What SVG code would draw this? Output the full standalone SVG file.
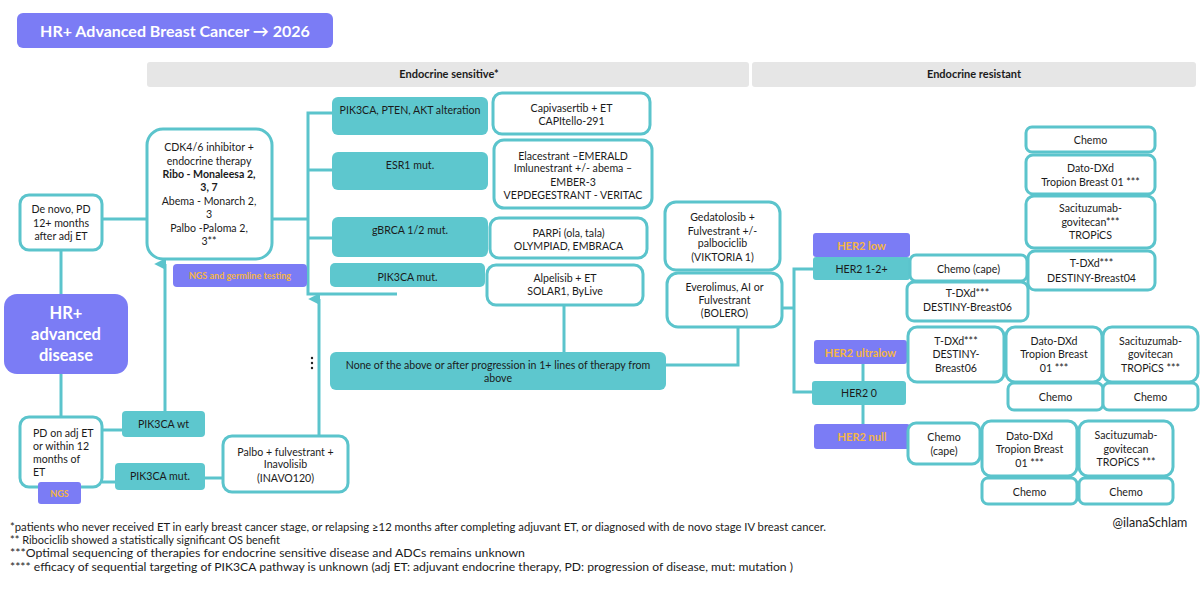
<svg xmlns="http://www.w3.org/2000/svg" width="1200" height="599" viewBox="0 0 1200 599">
<style>
text{font-family:Lato,"Liberation Sans",sans-serif;fill:#1b1b1b;font-size:10.6px;text-anchor:middle}
.wb{fill:#fff;stroke:#5BC4CC;stroke-width:3}
.tb{fill:#5DC7CE}
.pb{fill:#7B7CF5}
.gh{fill:#E6E6E6}
.b{font-weight:bold}
.w{fill:#fff;font-weight:bold}
.o{fill:#F4B545;font-weight:bold;font-size:11px}
.o9{fill:#F4B545;font-weight:bold;font-size:9px}
.l{text-anchor:start}
.hd{font-weight:bold;font-size:11px}
.fn{text-anchor:start;font-size:11.5px}
.big{font-size:16.5px}
.ttl{font-size:16px}
.cr{font-size:12.5px}
#connectors path,#connectors line{stroke:#5BC4CC;stroke-width:3;fill:none}
</style>
<defs>
<marker id="ah" viewBox="0 0 10 10" refX="5" refY="9" markerWidth="4" markerHeight="4" orient="auto-start-reverse" markerUnits="strokeWidth">
<path d="M0,10 L5,0 L10,10 Z" fill="#5BC4CC"/>
</marker>
</defs>
<rect width="1200" height="599" fill="#fff"/>

<g id="title"><rect class="pb" x="17" y="13" width="316" height="35" rx="6"/><text class="w ttl" x="175" y="37">HR+ Advanced Breast Cancer → 2026</text></g>
<g id="hdr-sensitive"><rect class="gh" x="147" y="62" width="602" height="25" rx="3"/><text class="hd" x="449" y="78">Endocrine sensitive*</text></g>
<g id="hdr-resistant"><rect class="gh" x="752" y="62" width="444" height="25" rx="3"/><text class="hd" x="974" y="78">Endocrine resistant</text></g>

<g id="connectors">
<line x1="61" y1="250" x2="61" y2="294"/>
<line x1="61" y1="374" x2="61" y2="417"/>
<line x1="102" y1="219" x2="147" y2="219"/>
<line x1="272" y1="219" x2="308" y2="219"/>
<path d="M332,113 H308 V294 H397"/>
<line x1="308" y1="170" x2="332" y2="170"/>
<line x1="308" y1="238" x2="332" y2="238"/>
<line x1="165" y1="411" x2="165" y2="264" marker-end="url(#ah)"/>
<line x1="319" y1="436" x2="319" y2="299" marker-end="url(#ah)"/>
<line x1="102" y1="430" x2="122" y2="430"/>
<line x1="102" y1="482" x2="115" y2="482"/>
<line x1="205" y1="478" x2="223" y2="478"/>
<line x1="564" y1="305" x2="564" y2="352"/>
<path d="M666,365 H738 V327"/>
<line x1="782" y1="308" x2="794" y2="308"/>
<path d="M813,269 H794 V392 H812"/>
<line x1="863" y1="364" x2="863" y2="381"/>
<line x1="863" y1="405" x2="863" y2="424"/>
</g>

<g id="denovo"><rect class="wb" x="20" y="195" width="82" height="55" rx="9"/><text x="61" y="213">De novo, PD</text><text x="61" y="227">12+ months</text><text x="61" y="240">after adj ET</text></g>
<g id="cdk"><rect class="wb" x="147" y="129" width="125" height="130" rx="16"/>
<text x="209" y="151">CDK4/6 inhibitor +</text><text x="209" y="165">endocrine therapy</text>
<text class="b" x="209" y="178">Ribo - Monaleesa 2,</text><text class="b" x="209" y="191">3, 7</text>
<text x="209" y="205">Abema - Monarch 2,</text><text x="209" y="218">3</text>
<text x="209" y="232">Palbo -Paloma 2,</text><text x="209" y="245">3**</text></g>
<g id="ngs-germline"><rect class="pb" x="173" y="264" width="134" height="23" rx="4"/><text class="o9" x="240" y="279">NGS and germline testing</text></g>

<g id="hr-adv"><rect class="pb" x="4" y="294" width="124" height="80" rx="13"/><text class="w big" x="66" y="319">HR+</text><text class="w big" x="66" y="340">advanced</text><text class="w big" x="66" y="361">disease</text></g>
<g id="pd-adj"><rect class="wb" x="20" y="417" width="82" height="70" rx="9"/><text class="l" x="33" y="437">PD on adj ET</text><text class="l" x="33" y="450">or within 12</text><text class="l" x="33" y="463">months of</text><text class="l" x="33" y="476">ET</text></g>
<g id="ngs"><rect class="pb" x="38" y="482" width="43" height="22" rx="3"/><text class="o9" x="59.5" y="497">NGS</text></g>
<g id="pik-wt"><rect class="tb" x="122" y="411" width="83" height="26" rx="4"/><text x="163.5" y="428">PIK3CA wt</text></g>
<g id="pik-mut-l"><rect class="tb" x="115" y="463" width="90" height="27" rx="4"/><text x="160" y="480">PIK3CA mut.</text></g>
<g id="inavo"><rect class="wb" x="223" y="436" width="125" height="56" rx="9"/><text x="285.5" y="456">Palbo + fulvestrant +</text><text x="285.5" y="468">Inavolisib</text><text x="285.5" y="482">(INAVO120)</text></g>
<g id="dots"><circle cx="312" cy="358" r="1.2" fill="#222"/><circle cx="312" cy="363" r="1.2" fill="#222"/><circle cx="312" cy="368" r="1.2" fill="#222"/></g>

<g id="pten"><rect class="tb" x="332" y="97" width="156" height="38" rx="6"/><text x="410" y="114">PIK3CA, PTEN, AKT  alteration</text></g>
<g id="esr1"><rect class="tb" x="332" y="152" width="156" height="38" rx="6"/><text x="410" y="169">ESR1 mut.</text></g>
<g id="gbrca"><rect class="tb" x="332" y="217" width="156" height="40" rx="6"/><text x="410" y="234">gBRCA 1/2 mut.</text></g>
<g id="pik-mut"><rect class="tb" x="330" y="263" width="155" height="24" rx="5"/><text x="407.5" y="281">PIK3CA mut.</text></g>

<g id="capi"><rect class="wb" x="493" y="93" width="157" height="41" rx="9"/><text x="571.5" y="112">Capivasertib + ET</text><text x="571.5" y="125">CAPItello-291</text></g>
<g id="elac"><rect class="wb" x="494" y="140" width="158" height="68" rx="10"/><text x="573" y="160">Elacestrant –EMERALD</text><text x="573" y="172">Imlunestrant +/- abema –</text><text x="573" y="186">EMBER-3</text><text x="573" y="199">VEPDEGESTRANT - VERITAC</text></g>
<g id="parp"><rect class="wb" x="490" y="218" width="157" height="40" rx="9"/><text x="568.5" y="237">PARPi (ola, tala)</text><text x="568.5" y="250">OLYMPIAD, EMBRACA</text></g>
<g id="alpe"><rect class="wb" x="487" y="265" width="156" height="40" rx="9"/><text x="565" y="282">Alpelisib + ET</text><text x="565" y="295">SOLAR1, ByLive</text></g>
<g id="none"><rect class="tb" x="330" y="352" width="336" height="38" rx="6"/><text x="498" y="369">None of the above or after progression in 1+ lines of therapy from</text><text x="498" y="382">above</text></g>

<g id="gedat"><rect class="wb" x="665" y="202" width="115" height="68" rx="11"/><text x="722.5" y="221">Gedatolosib +</text><text x="722.5" y="235">Fulvestrant +/-</text><text x="722.5" y="247">palbociclib</text><text x="722.5" y="261">(VIKTORIA 1)</text></g>
<g id="bolero"><rect class="wb" x="667" y="273" width="115" height="54" rx="11"/><text x="724.5" y="291">Everolimus, AI or</text><text x="724.5" y="304">Fulvestrant</text><text x="724.5" y="317">(BOLERO)</text></g>

<g id="her2low"><rect class="pb" x="813" y="233" width="97" height="24" rx="3"/><text class="o" x="861.5" y="250">HER2 low</text></g>
<g id="her2-12"><rect class="tb" x="813" y="257" width="97" height="23" rx="3"/><text x="861.5" y="273">HER2 1-2+</text></g>
<g id="her2ultra"><rect class="pb" x="814" y="340" width="93" height="24" rx="3"/><text class="o" x="860.5" y="357">HER2 ultralow</text></g>
<g id="her2-0"><rect class="tb" x="812" y="381" width="94" height="24" rx="3"/><text x="859" y="397">HER2 0</text></g>
<g id="her2null"><rect class="pb" x="814" y="424" width="96" height="25" rx="3"/><text class="o" x="862" y="441">HER2 null</text></g>

<g id="chemo-cape1"><rect class="wb" x="910" y="255" width="117" height="26" rx="6"/><text x="968.5" y="273">Chemo (cape)</text></g>
<g id="tdxd06a"><rect class="wb" x="907" y="282" width="121" height="39" rx="7"/><text x="967.5" y="297">T-DXd***</text><text x="967.5" y="311">DESTINY-Breast06</text></g>
<g id="chemo-r1"><rect class="wb" x="1026" y="127" width="129" height="25" rx="6"/><text x="1090.5" y="144">Chemo</text></g>
<g id="dato-r"><rect class="wb" x="1026" y="155" width="129" height="39" rx="7"/><text x="1090.5" y="172">Dato-DXd</text><text x="1090.5" y="186">Tropion Breast 01 ***</text></g>
<g id="saci-r"><rect class="wb" x="1026" y="196" width="129" height="52" rx="8"/><text x="1090.5" y="212">Sacituzumab-</text><text x="1090.5" y="226">govitecan***</text><text x="1090.5" y="239">TROPiCS</text></g>
<g id="tdxd04"><rect class="wb" x="1028" y="251" width="127" height="39" rx="7"/><text x="1091.5" y="267">T-DXd***</text><text x="1091.5" y="282">DESTINY-Breast04</text></g>

<g id="tdxd06b"><rect class="wb" x="908" y="327" width="96" height="55" rx="9"/><text x="956" y="345">T-DXd***</text><text x="956" y="358">DESTINY-</text><text x="956" y="372">Breast06</text></g>
<g id="dato-u"><rect class="wb" x="1006" y="327" width="96" height="55" rx="9"/><text x="1054" y="345">Dato-DXd</text><text x="1054" y="358">Tropion Breast</text><text x="1054" y="372">01 ***</text></g>
<g id="saci-u"><rect class="wb" x="1103" y="327" width="95" height="55" rx="9"/><text x="1150.5" y="345">Sacituzumab-</text><text x="1150.5" y="358">govitecan</text><text x="1150.5" y="372">TROPiCS ***</text></g>
<g id="chemo-u1"><rect class="wb" x="1008" y="383" width="95" height="27" rx="6"/><text x="1055.5" y="401">Chemo</text></g>
<g id="chemo-u2"><rect class="wb" x="1103" y="383" width="95" height="27" rx="6"/><text x="1150.5" y="401">Chemo</text></g>

<g id="chemo-cape2"><rect class="wb" x="908" y="423" width="72" height="41" rx="8"/><text x="944" y="441">Chemo</text><text x="944" y="455">(cape)</text></g>
<g id="dato-n"><rect class="wb" x="982" y="421" width="95" height="55" rx="9"/><text x="1029.5" y="440">Dato-DXd</text><text x="1029.5" y="453">Tropion Breast</text><text x="1029.5" y="467">01 ***</text></g>
<g id="saci-n"><rect class="wb" x="1079" y="421" width="94" height="55" rx="9"/><text x="1126" y="439">Sacituzumab-</text><text x="1126" y="453">govitecan</text><text x="1126" y="466">TROPiCS ***</text></g>
<g id="chemo-n1"><rect class="wb" x="982" y="478" width="95" height="26" rx="6"/><text x="1029.5" y="496">Chemo</text></g>
<g id="chemo-n2"><rect class="wb" x="1079" y="478" width="94" height="26" rx="6"/><text x="1126" y="496">Chemo</text></g>

<g id="footnotes">
<text class="fn" x="10" y="531" textLength="816" lengthAdjust="spacingAndGlyphs">*patients who never received ET in early breast cancer stage, or relapsing ≥12 months after completing adjuvant ET, or diagnosed with de novo stage IV breast cancer.</text>
<text class="fn" x="10" y="544" textLength="270" lengthAdjust="spacingAndGlyphs">** Ribociclib showed a statistically significant OS benefit</text>
<text class="fn" x="10" y="557" textLength="515" lengthAdjust="spacingAndGlyphs">***Optimal sequencing of therapies for endocrine sensitive disease and ADCs remains unknown</text>
<text class="fn" x="10" y="571" textLength="783" lengthAdjust="spacingAndGlyphs">**** efficacy of sequential targeting of PIK3CA pathway is unknown  (adj ET: adjuvant endocrine therapy, PD: progression of disease, mut: mutation )</text>
</g>
<g id="credit"><text class="cr" x="1150" y="527">@ilanaSchlam</text></g>
</svg>
